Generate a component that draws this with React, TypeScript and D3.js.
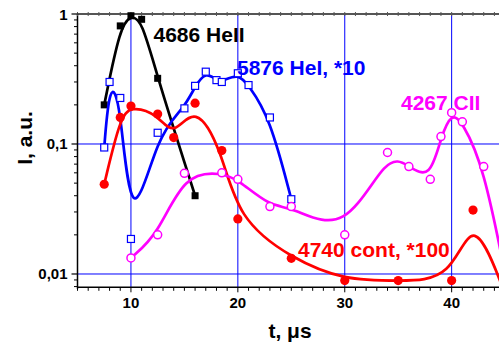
import React from "react";
import * as d3 from "d3";

// time, us and intensity (a.u.)
const heIIT = [7.5, 9, 10, 11, 12.5, 16];
const heIII = [0.2, 0.81, 0.97, 0.91, 0.32, 0.04];

const heIT = [7.5, 8, 9, 10, 12.5, 15, 16, 17, 18, 18.5, 20, 21, 23, 25];
const heII = [0.094, 0.3, 0.226, 0.0186, 0.122, 0.188, 0.28, 0.36, 0.31, 0.3, 0.35, 0.284, 0.16, 0.0376];

const contT = [7.5, 9, 10, 12.5, 14, 16, 18.5, 20, 25, 30, 35, 40, 42, 45];
const contI = [0.049, 0.16, 0.196, 0.17, 0.112, 0.206, 0.089, 0.0265, 0.0132, 0.0089, 0.0089, 0.0089, 0.031, 0.007];

const ciiT = [10, 12.5, 15, 18.5, 20, 23, 25, 30, 34, 36, 38, 39, 40, 41, 43, 45];
const ciiI = [0.0133, 0.02, 0.0595, 0.06, 0.0535, 0.033, 0.033, 0.02, 0.086, 0.067, 0.0535, 0.114, 0.174, 0.148, 0.067, 0.01];

const xTickLabels = [10, 20, 30, 40];
const yTickLabels = [
  { v: 1, t: "1" },
  { v: 0.1, t: "0,1" },
  { v: 0.01, t: "0,01" },
];

const font = "'Liberation Sans', Arial, sans-serif";

export default function App() {
  const svgRef = React.useRef<SVGSVGElement>(null);

  React.useEffect(() => {
    const svg = d3.select(svgRef.current);
    svg.selectAll("*").remove();

    const x = d3.scaleLinear().domain([5, 45]).range([77.5, 505.1]);
    const y = d3.scaleLog().domain([0.0079, 1]).range([287.3, 14]);
    const [x0, x1] = x.range();
    const [yb, yt] = y.range();

    /* grid */
    const grid = svg.append("g").attr("stroke", "#0000ff").attr("stroke-width", 1);
    xTickLabels.forEach((t) => {
      grid.append("line").attr("x1", x(t)).attr("x2", x(t)).attr("y1", yt).attr("y2", yb);
    });
    [0.1, 0.01].forEach((v) => {
      grid.append("line").attr("x1", x0).attr("x2", x1).attr("y1", y(v)).attr("y2", y(v));
    });

    /* axes */
    const ax = svg.append("g");
    ax.append("line").attr("x1", x0).attr("x2", x1).attr("y1", yt).attr("y2", yt)
      .attr("stroke", "#555").attr("stroke-width", 2);
    ax.append("line").attr("x1", x0).attr("x2", x1).attr("y1", yb).attr("y2", yb)
      .attr("stroke", "#000").attr("stroke-width", 1.5);
    ax.append("line").attr("x1", x0).attr("x2", x0).attr("y1", yt).attr("y2", yb + 1.5)
      .attr("stroke", "#000").attr("stroke-width", 1.5);

    d3.range(5, 46).forEach((t) => {
      const major = t % 10 === 0;
      ax.append("line").attr("x1", x(t)).attr("x2", x(t))
        .attr("y1", yb).attr("y2", yb + (major ? 5 : 3.5))
        .attr("stroke", "#000").attr("stroke-width", 1);
      ax.append("line").attr("x1", x(t)).attr("x2", x(t))
        .attr("y1", yt - 2).attr("y2", yt + 2)
        .attr("stroke", "#555").attr("stroke-width", 1);
    });

    const yMinor: number[] = [];
    [0.001, 0.01, 0.1].forEach((d) => d3.range(2, 10).forEach((m) => yMinor.push(d * m)));
    yMinor.filter((v) => v >= 0.0079 && v < 1).forEach((v) => {
      ax.append("line").attr("x1", x0 - 3.5).attr("x2", x0).attr("y1", y(v)).attr("y2", y(v))
        .attr("stroke", "#000").attr("stroke-width", 1);
    });
    yTickLabels.forEach((d) => {
      ax.append("line").attr("x1", x0 - 6).attr("x2", x0).attr("y1", y(d.v)).attr("y2", y(d.v))
        .attr("stroke", "#000").attr("stroke-width", 1.2);
      ax.append("text").attr("x", x0 - 10).attr("y", y(d.v) + 5.5)
        .attr("text-anchor", "end").attr("font-family", font).attr("font-weight", "bold")
        .attr("font-size", 15).attr("fill", "#000").text(d.t);
    });
    xTickLabels.forEach((t) => {
      ax.append("text").attr("x", x(t)).attr("y", 308.3)
        .attr("text-anchor", "middle").attr("font-family", font).attr("font-weight", "bold")
        .attr("font-size", 15).attr("fill", "#000").text(String(t));
    });

    ax.append("text").attr("x", 290).attr("y", 338)
      .attr("text-anchor", "middle").attr("font-family", font).attr("font-weight", "bold")
      .attr("font-size", 21).attr("fill", "#000").text("t, \u03bcs");
    ax.append("text").attr("transform", "translate(32,138) rotate(-90)")
      .attr("text-anchor", "middle").attr("font-family", font).attr("font-weight", "bold")
      .attr("font-size", 21).attr("fill", "#000").text("I, a.u.");

    /* series */
    const line = d3.line<[number, number]>()
      .x((d) => x(d[0]))
      .y((d) => y(d[1]))
      .curve(d3.curveBasis);

    const series = [
      { t: heIIT, v: heIII, color: "#000000", mark: "fsquare" },
      { t: heIT, v: heII, color: "#0000ff", mark: "osquare" },
      { t: contT, v: contI, color: "#ff0000", mark: "fcircle" },
      { t: ciiT, v: ciiI, color: "#ff00ff", mark: "ocircle" },
    ];

    series.forEach((s) => {
      const pts = s.t.map((t, i) => [t, s.v[i]] as [number, number]);
      const g = svg.append("g");
      g.append("path").attr("d", line(pts)).attr("fill", "none")
        .attr("stroke", s.color).attr("stroke-width", 2.7);
      pts.forEach((p) => {
        const cx = x(p[0]);
        const cy = y(p[1]);
        if (s.mark === "fsquare") {
          g.append("rect").attr("x", cx - 3.5).attr("y", cy - 3.5).attr("width", 7).attr("height", 7)
            .attr("fill", s.color);
        } else if (s.mark === "osquare") {
          g.append("rect").attr("x", cx - 3.5).attr("y", cy - 3.5).attr("width", 7).attr("height", 7)
            .attr("fill", "#fff").attr("stroke", s.color).attr("stroke-width", 1.2);
        } else if (s.mark === "fcircle") {
          g.append("circle").attr("cx", cx).attr("cy", cy).attr("r", 4.6).attr("fill", s.color);
        } else {
          g.append("circle").attr("cx", cx).attr("cy", cy).attr("r", 4)
            .attr("fill", "#fff").attr("stroke", s.color).attr("stroke-width", 1.5);
        }
      });
    });

    /* labels */
    const labels = [
      { text: "4686 HeII", x: 153.5, y: 41.7, color: "#000000" },
      { text: "5876 HeI, *10", x: 237, y: 75, color: "#0000ff" },
      { text: "4267 CII", x: 401, y: 110, color: "#ff00ff" },
      { text: "4740 cont, *100", x: 298, y: 257.3, color: "#ff0000" },
    ];
    labels.forEach((l) => {
      svg.append("text").attr("x", l.x).attr("y", l.y)
        .attr("font-family", font).attr("font-weight", "bold").attr("font-size", 21)
        .attr("fill", l.color).text(l.text);
    });
  }, []);

  return (
    <svg
      ref={svgRef}
      width={499}
      height={347}
      style={{ position: "absolute", left: 0, top: 0, background: "#fff" }}
    />
  );
}
